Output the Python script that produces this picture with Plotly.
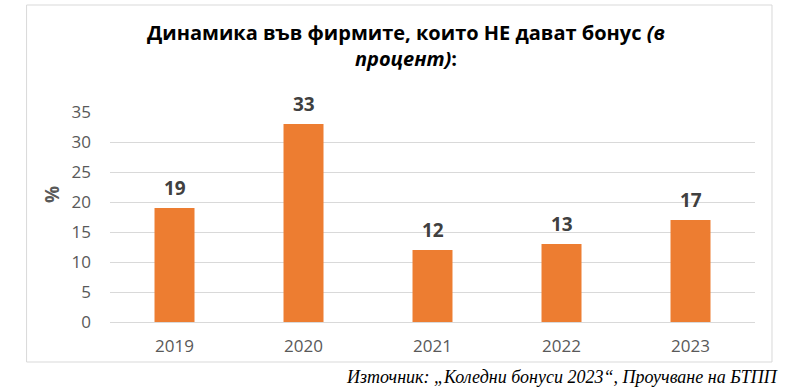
import plotly.graph_objects as go

years = ["2019", "2020", "2021", "2022", "2023"]
values = [19, 33, 12, 13, 17]
y_ticks = [0, 5, 10, 15, 20, 25, 30, 35]

title_text = "Динамика във фирмите, които НЕ дават бонус <i>(в</i><br><i>процент)</i>:"
source_text = "<i>Източник: „Коледни бонуси 2023“, Проучване на БТПП</i>"
y_label = "%"

W, H = 799, 387
L, R, T, B = 110, 43.5, 112, 65
pw, ph = W - L - R, H - T - B

def px(x):
    return (x - L) / pw

def py(y):
    return (H - B - y) / ph

fig = go.Figure()
fig.add_trace(go.Bar(
    x=years, y=values,
    marker=dict(color="#ED7D31", line=dict(width=0)),
    width=0.31,
    hoverinfo="skip",
))

for i, v in enumerate(values):
    fig.add_annotation(
        x=i, y=v, xref="x", yref="y",
        text="<b>%d</b>" % v, showarrow=False,
        yanchor="bottom", yshift=5,
        font=dict(family="Open Sans", size=19, color="#404040"),
    )

fig.add_annotation(
    x=px(52), y=py(195), xref="paper", yref="paper",
    text="<b>%s</b>" % y_label, textangle=-90, showarrow=False,
    xanchor="center", yanchor="middle",
    font=dict(family="Open Sans", size=19, color="#595959"),
)

fig.add_annotation(
    x=px(781), y=py(377), xref="paper", yref="paper",
    text=source_text, showarrow=False,
    xanchor="right", yanchor="middle",
    font=dict(family="Liberation Serif", size=18, color="#000000"),
)

fig.add_shape(
    type="rect", xref="paper", yref="paper",
    x0=px(26.5), x1=px(772.5), y0=py(362), y1=py(5),
    line=dict(color="#D9D9D9", width=1), fillcolor="rgba(0,0,0,0)", layer="below",
)

fig.update_layout(
    width=W, height=H,
    margin=dict(l=L, r=R, t=T, b=B, pad=0),
    paper_bgcolor="white", plot_bgcolor="white",
    showlegend=False,
    title=dict(
        text=title_text,
        x=(406) / W, xanchor="center", xref="container",
        y=1 - 40 / H, yanchor="middle", yref="container",
        font=dict(family="Open Sans", size=20, color="#000000", weight="bold"),
    ),
    xaxis=dict(
        type="category", range=[-0.5, len(years) - 0.5],
        showgrid=False, showline=False, ticks="",
        tickfont=dict(family="Open Sans", size=17, color="#595959"),
        ticklabelstandoff=12,
    ),
    yaxis=dict(
        range=[0, 35], tickvals=y_ticks, showgrid=True, gridcolor="#D9D9D9", gridwidth=1,
        zeroline=True, zerolinecolor="#D9D9D9", zerolinewidth=1,
        showline=False, ticks="",
        tickfont=dict(family="Open Sans", size=17, color="#595959"),
        ticklabelstandoff=18,
    ),
)

fig.write_html("out.html", config={"displayModeBar": False},
               post_script="document.body.style.margin='0';")
